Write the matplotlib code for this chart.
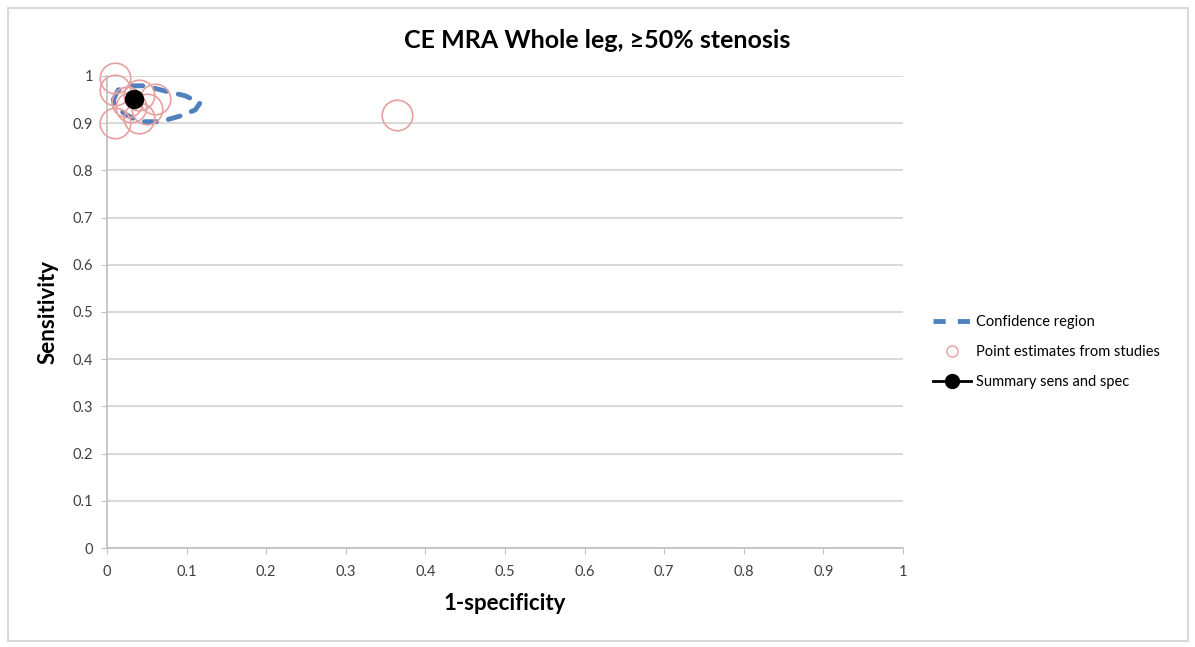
import matplotlib
matplotlib.use("Agg")
import matplotlib.pyplot as plt
from matplotlib.patches import Rectangle
from matplotlib.lines import Line2D

plt.rcParams['font.family'] = ['Lato', 'DejaVu Sans']

# point estimates from individual studies (1-specificity, sensitivity)
study_fpr = [0.010, 0.010, 0.010, 0.040, 0.060, 0.040, 0.030, 0.050, 0.025, 0.365]
study_sens = [0.995, 0.970, 0.900, 0.960, 0.950, 0.910, 0.935, 0.930, 0.945, 0.917]

# summary sensitivity / specificity
summary_fpr = [0.034]
summary_sens = [0.951]

# confidence region outline
region_fpr = [0.008, 0.014, 0.029, 0.048, 0.073, 0.098, 0.117, 0.111, 0.092,
              0.067, 0.041, 0.023, 0.010, 0.008]
region_sens = [0.949, 0.970, 0.979, 0.979, 0.968, 0.958, 0.943, 0.928, 0.915,
               0.903, 0.903, 0.919, 0.936, 0.949]

ticks = [0, 0.1, 0.2, 0.3, 0.4, 0.5, 0.6, 0.7, 0.8, 0.9, 1]
tick_labels = ['0', '0.1', '0.2', '0.3', '0.4', '0.5', '0.6', '0.7', '0.8', '0.9', '1']

fig = plt.figure(figsize=(11.95, 6.47), dpi=100)
ax = fig.add_axes([0.0895, 0.153, 0.6661, 0.7297])

ax.plot(region_fpr, region_sens, color='#4F81BD', lw=3.5, ls=(0, (2.5, 2.5)),
        dash_capstyle='round', zorder=3)
ax.plot(study_fpr, study_sens, ls='none', marker='o', ms=22, mfc='none',
        mec='#E6A0A0', mew=1.2, zorder=4, clip_on=False)
ax.plot(summary_fpr, summary_sens, ls='none', marker='o', ms=13, color='black', zorder=5)

ax.set_xlim(0, 1)
ax.set_ylim(0, 1)
ax.set_xticks(ticks)
ax.set_xticklabels(tick_labels)
ax.set_yticks(ticks)
ax.set_yticklabels(tick_labels)
ax.grid(axis='y', color='#D9D9D9', lw=1.5)
ax.set_axisbelow(True)
for s in ['top', 'right']:
    ax.spines[s].set_visible(False)
for s in ['left', 'bottom']:
    ax.spines[s].set_color('#BFBFBF')
    ax.spines[s].set_linewidth(1.2)
ax.tick_params(colors='#404040', labelsize=10.5, length=4, color='#BFBFBF')
ax.tick_params(axis='x', pad=8)
ax.tick_params(axis='y', pad=6)

ax.set_xlabel('1-specificity', fontsize=16, fontweight='bold', labelpad=10)
ax.set_ylabel('Sensitivity', fontsize=16, fontweight='bold', labelpad=10)
fig.suptitle('CE MRA Whole leg, ≥50% stenosis', fontsize=18, fontweight='bold',
             x=0.5, y=0.938, va='center')

handles = [
    Line2D([], [], color='#4F81BD', lw=3.5, ls=(0, (2.5, 2.5))),
    Line2D([], [], ls='none', marker='o', ms=8, mfc='none', mec='#E6A0A0', mew=1),
    Line2D([], [], color='black', lw=2, marker='o', ms=10),
]
labels = ['Confidence region', 'Point estimates from studies', 'Summary sens and spec']
fig.legend(handles, labels, loc='center left', bbox_to_anchor=(0.770, 0.456),
           frameon=False, fontsize=10.5, handlelength=2.6, handletextpad=0.3,
           labelspacing=1.1)

fig.patches.append(Rectangle((0.007, 0.01), 0.987, 0.978, transform=fig.transFigure,
                             fill=False, edgecolor='#D9D9D9', lw=1.5))

fig.savefig('out.png', dpi=100)
